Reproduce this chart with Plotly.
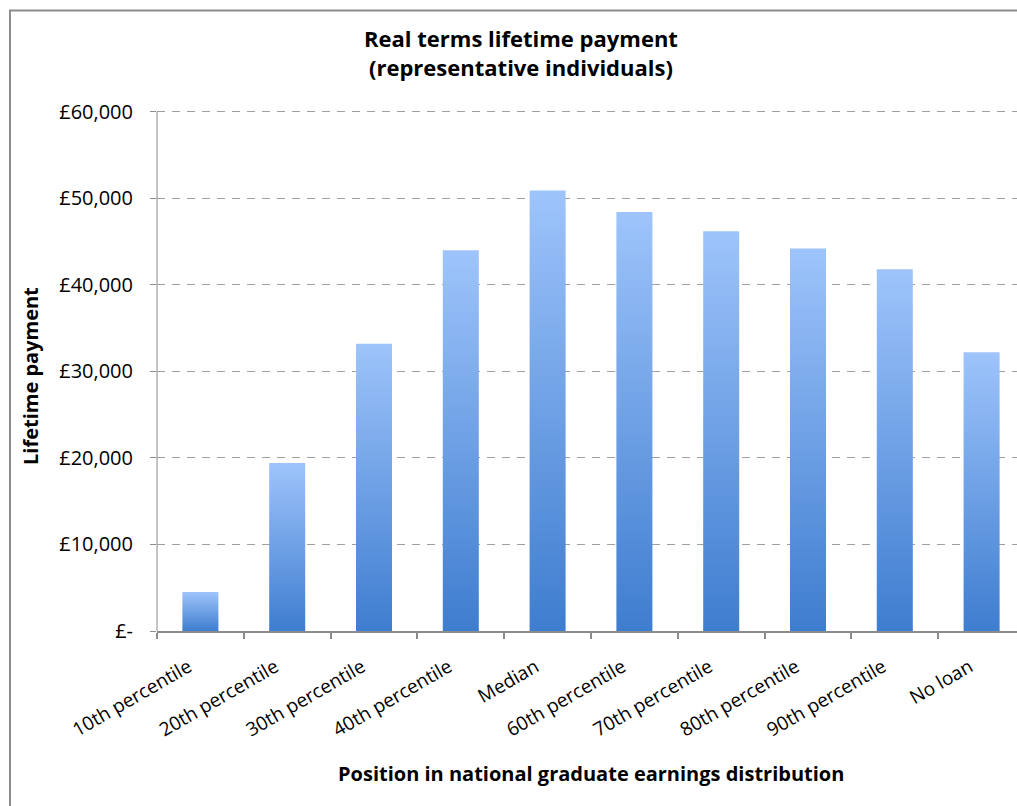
import plotly.graph_objects as go

# Lifetime payment (real terms) for representative graduates
categories = ["10th percentile", "20th percentile", "30th percentile", "40th percentile",
              "Median", "60th percentile", "70th percentile", "80th percentile",
              "90th percentile", "No loan"]
payments = [4500, 19400, 33200, 44000, 50900, 48400, 46200, 44200, 41800, 32200]

y_tick_values = [0, 10000, 20000, 30000, 40000, 50000, 60000]
y_tick_labels = ["£-", "£10,000", "£20,000", "£30,000", "£40,000", "£50,000", "£60,000"]

# Page geometry (pixels)
W, H = 1017, 806
PLOT_L, PLOT_R, PLOT_T, PLOT_B = 157, 1017, 109, 631
Y_TOP_PX = 111.7        # where the 60,000 line sits
CAT_PX = 86.8           # width of one category slot
BAR_FRAC = 0.415        # bar width as a fraction of the slot

FONT = "Open Sans"
GRAY = "#8c8c8c"


def px_to_paper_x(px):
    return (px - PLOT_L) / (PLOT_R - PLOT_L)


def px_to_paper_y(py):
    return (PLOT_B - py) / (PLOT_B - PLOT_T)


fig = go.Figure()

half = BAR_FRAC / 2
for i, (cat, val) in enumerate(zip(categories, payments)):
    fig.add_trace(go.Scatter(
        x=[i - half, i - half, i + half, i + half, i - half],
        y=[0, val, val, 0, 0],
        mode="lines",
        line=dict(width=0, color="#6a9fe6"),
        fill="toself",
        fillgradient=dict(
            type="vertical",
            start=0,
            stop=val,
            colorscale=[[0, "#3e7dcf"], [1, "#9ec4fb"]],
        ),
        name=cat,
        hoveron="fills",
        text=f"{cat}: £{val:,}",
        hoverinfo="text",
        showlegend=False,
    ))

x_upper = -0.5 + (PLOT_R - PLOT_L) / CAT_PX
y_upper = 60000 * (PLOT_B - PLOT_T) / (PLOT_B - Y_TOP_PX)

fig.update_xaxes(
    range=[-0.5, x_upper],
    tickmode="array",
    tickvals=list(range(len(categories))),
    ticktext=categories,
    tickangle=-30,
    ticks="",
    ticklabelstandoff=16,
    ticklabelshift=-12,
    showgrid=False,
    zeroline=False,
    showline=True,
    linecolor=GRAY,
    linewidth=1.5,
    tickfont=dict(family=FONT, size=19, color="black"),
    minor=dict(
        tickmode="array",
        tickvals=[i - 0.5 for i in range(len(categories) + 1)],
        ticks="outside",
        ticklen=6,
        tickcolor=GRAY,
        tickwidth=1.5,
        showgrid=False,
    ),
    fixedrange=True,
)

fig.update_yaxes(
    range=[0, y_upper],
    tickmode="array",
    tickvals=y_tick_values,
    ticktext=y_tick_labels,
    ticks="outside",
    ticklen=6,
    tickcolor=GRAY,
    tickwidth=1,
    showgrid=True,
    gridcolor="#a0a0a0",
    griddash="8px,7px",
    gridwidth=1,
    zeroline=False,
    showline=False,
    ticklabelstandoff=13,
    tickfont=dict(family=FONT, size=20, color="black"),
    fixedrange=True,
)

# Vertical axis line running from zero up to the top gridline
fig.add_shape(
    type="line", xref="paper", yref="y",
    x0=0, x1=0, y0=0, y1=60000,
    line=dict(color=GRAY, width=1), layer="above",
)

annotations = [
    dict(text="<b>Real terms lifetime payment<br>(representative individuals)</b>",
         x=px_to_paper_x(521), y=px_to_paper_y(53),
         font=dict(family=FONT, size=22, color="black")),
    dict(text="<b>Position in national graduate earnings distribution</b>",
         x=px_to_paper_x(591), y=px_to_paper_y(773),
         font=dict(family=FONT, size=20, color="black")),
    dict(text="<b>Lifetime payment</b>", x=px_to_paper_x(30), y=px_to_paper_y(376),
         textangle=-90, font=dict(family=FONT, size=20, color="black")),
]
for a in annotations:
    a.update(xref="paper", yref="paper", xanchor="center", yanchor="middle", showarrow=False)

# Outer chart border
fig.add_shape(
    type="rect", xref="paper", yref="paper",
    x0=px_to_paper_x(10), x1=px_to_paper_x(W + 20),
    y0=px_to_paper_y(H + 20), y1=px_to_paper_y(10.5),
    line=dict(color=GRAY, width=2), fillcolor="rgba(0,0,0,0)", layer="above",
)

fig.update_layout(
    width=W,
    height=H,
    margin=dict(l=PLOT_L, r=W - PLOT_R, t=PLOT_T, b=H - PLOT_B, autoexpand=False),
    paper_bgcolor="white",
    plot_bgcolor="white",
    annotations=annotations,
    showlegend=False,
    font=dict(family=FONT),
)

fig.write_html("out.html", config={"displayModeBar": False})
